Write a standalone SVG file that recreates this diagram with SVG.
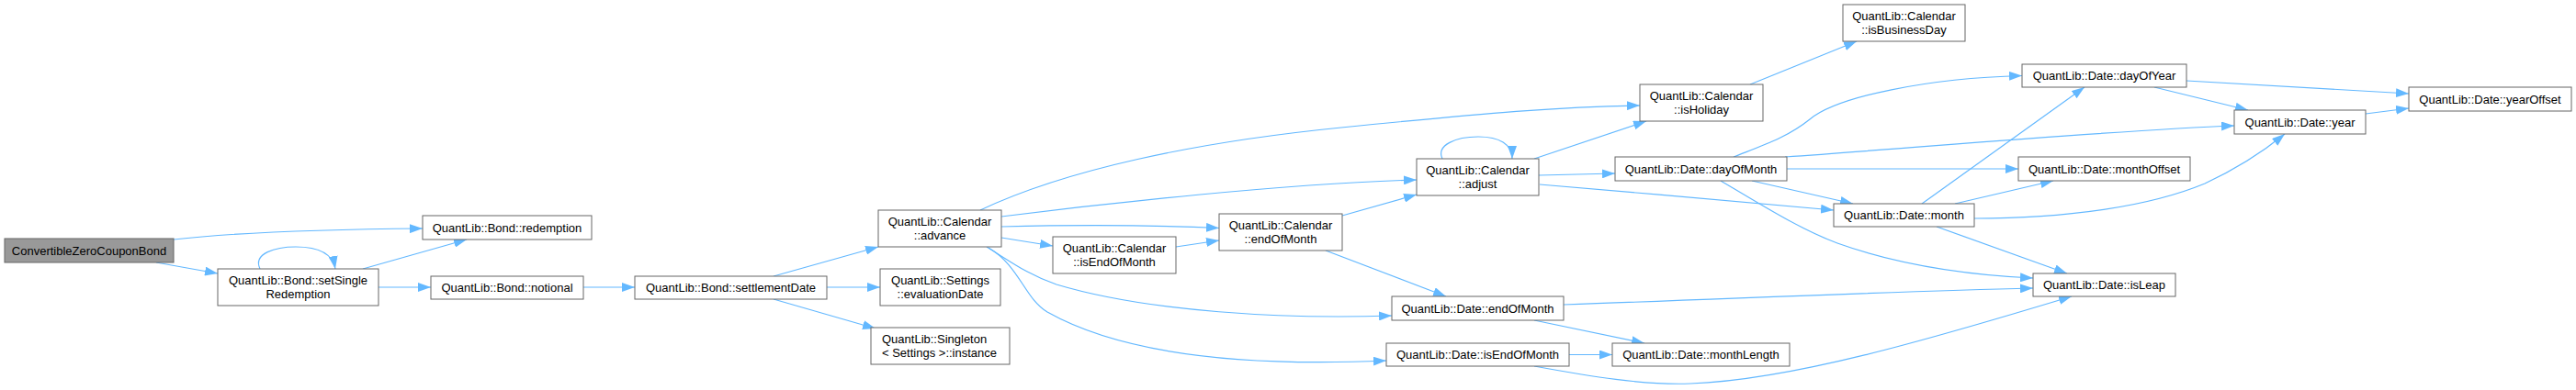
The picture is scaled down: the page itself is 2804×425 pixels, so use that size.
<svg xmlns="http://www.w3.org/2000/svg" width="2804" height="425" viewBox="0 0 2804 425">
<style>
.node rect{fill:#ffffff;stroke:#666666;stroke-width:1}
.node.root rect{fill:#999999}
.node text{font-family:"Liberation Sans",Arial,sans-serif;font-size:13px;fill:#000000;text-anchor:middle}
.node text.l{text-anchor:start}
.edges path{fill:none;stroke:#63b8ff;stroke-width:1.2;marker-end:url(#arr)}
</style>
<defs>
<marker id="arr" markerUnits="userSpaceOnUse" markerWidth="14" markerHeight="10" refX="14" refY="5" orient="auto">
<path d="M0,0 L14,5 L0,10 z" fill="#63b8ff"/>
</marker>
</defs>
<rect width="2804" height="425" fill="#ffffff"/>
<g id="connectors" class="edges">
<path d="M189,261 C250,254 350,250 460,249"/>
<path d="M170,286 L237,298"/>
<path d="M283,293 C275,276 300,269 322,269 C345,269 362,276 365,293"/>
<path d="M395,293 L508,261"/>
<path d="M412,313 L469,313"/>
<path d="M635,313 L691,313"/>
<path d="M842,301 L956,269"/>
<path d="M900,313 L958,313"/>
<path d="M842,326 L953,358"/>
<path d="M1067,229 C1160,185 1300,155 1460,139 S1700,116 1785,115"/>
<path d="M1090,236 C1200,222 1400,200 1542,196"/>
<path d="M1090,247 C1170,245 1250,245 1327,248.5"/>
<path d="M1090,259 L1146,268"/>
<path d="M1074,269 C1100,285 1120,300 1150,310 C1250,340 1400,348 1515,344"/>
<path d="M1076,270 C1110,290 1115,325 1140,340 C1220,385 1350,400 1509,393"/>
<path d="M1280,269 L1327,262"/>
<path d="M1461,235 L1542,212"/>
<path d="M1443,273 L1574,323"/>
<path d="M1570,173 C1563,158 1585,149 1609,149 C1632,149 1646,157 1646,173"/>
<path d="M1670,173 L1792,132"/>
<path d="M1675,191 L1758,189"/>
<path d="M1676,201 C1780,210 1900,220 1996,229"/>
<path d="M1905,92 L2021,45"/>
<path d="M1887,171 C1920,158 1945,150 1970,130 C2000,105 2100,85 2201,82.5"/>
<path d="M1943,171 C2100,160 2300,142 2432,137"/>
<path d="M1945,184 L2197,184"/>
<path d="M1907,197 L2017,222"/>
<path d="M1873,197 C1920,225 1960,250 2000,265 C2070,290 2150,300 2213,303"/>
<path d="M2092,222 L2269,95"/>
<path d="M2128,222 L2235,197"/>
<path d="M2149,238 C2250,238 2340,225 2400,200 C2430,186 2460,168 2487,146"/>
<path d="M2108,247 L2250,298"/>
<path d="M2345,95 L2447,120"/>
<path d="M2380,88 L2622,102"/>
<path d="M2575,124 L2622,118"/>
<path d="M1702,332 C1900,325 2050,318 2213,314"/>
<path d="M1670,349 L1790,374"/>
<path d="M1708,386.5 L1755,386.5"/>
<path d="M1670,399 C1730,410 1790,420 1840,418 C1950,414 2100,370 2255,323"/>
</g>
<g id="n_czcb" class="node root"><rect x="5" y="260" width="184" height="26"/><text x="97" y="277.5">ConvertibleZeroCouponBond</text></g>
<g id="n_setSingleRedemption" class="node"><rect x="237" y="293" width="175" height="40"/><text x="324.5" y="309.5">QuantLib::Bond::setSingle</text><text x="324.5" y="324.5">Redemption</text></g>
<g id="n_redemption" class="node"><rect x="460" y="235" width="184" height="26"/><text x="552" y="252.5">QuantLib::Bond::redemption</text></g>
<g id="n_notional" class="node"><rect x="469" y="301" width="166" height="25"/><text x="552" y="318">QuantLib::Bond::notional</text></g>
<g id="n_settlementDate" class="node"><rect x="691" y="301" width="209" height="25"/><text x="795.5" y="318">QuantLib::Bond::settlementDate</text></g>
<g id="n_advance" class="node"><rect x="956" y="229" width="134" height="40"/><text x="1023" y="245.5">QuantLib::Calendar</text><text x="1023" y="260.5">::advance</text></g>
<g id="n_evaluationDate" class="node"><rect x="958" y="293" width="131" height="40"/><text x="1023.5" y="309.5">QuantLib::Settings</text><text x="1023.5" y="324.5">::evaluationDate</text></g>
<g id="n_singletonInstance" class="node"><rect x="948" y="357" width="151" height="40"/><text class="l" x="960" y="373.5">QuantLib::Singleton</text><text class="l" x="960" y="388.5">&lt; Settings &gt;::instance</text></g>
<g id="n_calIsEndOfMonth" class="node"><rect x="1146" y="258" width="134" height="40"/><text x="1213" y="274.5">QuantLib::Calendar</text><text x="1213" y="289.5">::isEndOfMonth</text></g>
<g id="n_calEndOfMonth" class="node"><rect x="1327" y="233" width="134" height="40"/><text x="1394" y="249.5">QuantLib::Calendar</text><text x="1394" y="264.5">::endOfMonth</text></g>
<g id="n_adjust" class="node"><rect x="1542" y="173" width="133" height="40"/><text x="1608.5" y="189.5">QuantLib::Calendar</text><text x="1608.5" y="204.5">::adjust</text></g>
<g id="n_isHoliday" class="node"><rect x="1785" y="92" width="134" height="40"/><text x="1852" y="108.5">QuantLib::Calendar</text><text x="1852" y="123.5">::isHoliday</text></g>
<g id="n_isBusinessDay" class="node"><rect x="2006" y="5" width="133" height="40"/><text x="2072.5" y="21.5">QuantLib::Calendar</text><text x="2072.5" y="36.5">::isBusinessDay</text></g>
<g id="n_dateEndOfMonth" class="node"><rect x="1515" y="323" width="187" height="26"/><text x="1608.5" y="340.5">QuantLib::Date::endOfMonth</text></g>
<g id="n_dateIsEndOfMonth" class="node"><rect x="1509" y="374" width="199" height="25"/><text x="1608.5" y="391">QuantLib::Date::isEndOfMonth</text></g>
<g id="n_dayOfMonth" class="node"><rect x="1758" y="171" width="187" height="26"/><text x="1851.5" y="188.5">QuantLib::Date::dayOfMonth</text></g>
<g id="n_month" class="node"><rect x="1996" y="222" width="153" height="25"/><text x="2072.5" y="239">QuantLib::Date::month</text></g>
<g id="n_monthLength" class="node"><rect x="1755" y="374" width="193" height="25"/><text x="1851.5" y="391">QuantLib::Date::monthLength</text></g>
<g id="n_dayOfYear" class="node"><rect x="2201" y="70" width="179" height="25"/><text x="2290.5" y="87">QuantLib::Date::dayOfYear</text></g>
<g id="n_monthOffset" class="node"><rect x="2197" y="171" width="187" height="26"/><text x="2290.5" y="188.5">QuantLib::Date::monthOffset</text></g>
<g id="n_isLeap" class="node"><rect x="2213" y="298" width="155" height="25"/><text x="2290.5" y="315">QuantLib::Date::isLeap</text></g>
<g id="n_year" class="node"><rect x="2432" y="120" width="143" height="26"/><text x="2503.5" y="137.5">QuantLib::Date::year</text></g>
<g id="n_yearOffset" class="node"><rect x="2622" y="95" width="177" height="26"/><text x="2710.5" y="112.5">QuantLib::Date::yearOffset</text></g>
</svg>
